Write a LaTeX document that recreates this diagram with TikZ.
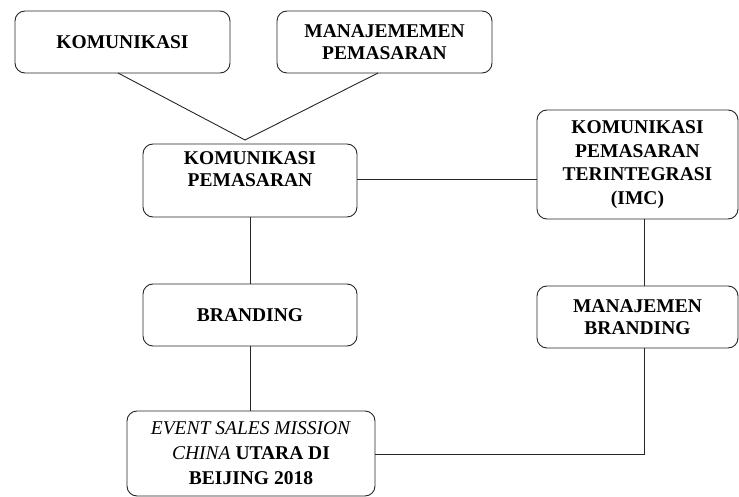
\documentclass[tikz,border=0pt]{standalone}
\usepackage{fontspec}
\setmainfont{Liberation Serif}
\usetikzlibrary{calc}
\begin{document}
\begin{tikzpicture}[x=1pt,y=-1pt,
  box/.style={draw=black!85, line width=0.9pt, rounded corners=10pt, align=center,
    inner sep=0pt, outer sep=0pt,
    font=\fontsize{19.5}{22}\selectfont\bfseries},
  conn/.style={draw=black!85, line width=0.9pt}]
\useasboundingbox (0,0) rectangle (739,497);
\node[box, minimum width=215pt, minimum height=62pt] (K) at (122.5,42) {KOMUNIKASI};
\node[box, minimum width=215pt, minimum height=62pt] (MP) at (384.5,42) {MANAJEMEMEN\\PEMASARAN};
\node[box, minimum width=214pt, minimum height=73pt] (KP) at (250,180.5) {KOMUNIKASI\\PEMASARAN\\[1pt]};
\node[box, minimum width=201pt, minimum height=109pt,
  font=\fontsize{19.5}{23.5}\selectfont\bfseries] (IMC) at (637.5,164.5) {KOMUNIKASI\\PEMASARAN\\TERINTEGRASI\\(IMC)};
\node[box, minimum width=214pt, minimum height=62pt] (B) at (250,315) {BRANDING};
\node[box, minimum width=201pt, minimum height=62pt] (MB) at (637.5,317) {MANAJEMEN\\BRANDING};
\node[box, minimum width=248pt, minimum height=85pt,
  font=\fontsize{19.5}{25}\selectfont] (E) at (251,453.5)
  {\textit{EVENT SALES MISSION}\\\textit{CHINA} \textbf{UTARA DI}\\\textbf{BEIJING 2018}};
\coordinate (apex) at (245,140);
\coordinate (corner) at (644,454);
\draw[conn] ($(K.south)+(-4.5,0)$) -- (apex) -- ($(MP.south)+(-6.5,0)$);
\draw[conn] (KP.east |- 0,179) -- (IMC.west |- 0,179);
\draw[conn] (KP.south) -- (B.north);
\draw[conn] (B.south) -- (B.south |- E.north);
\draw[conn] (IMC.south -| corner) -- (MB.north -| corner);
\draw[conn] (MB.south -| corner) -- (corner) -- (E.east |- corner);
\end{tikzpicture}
\end{document}
